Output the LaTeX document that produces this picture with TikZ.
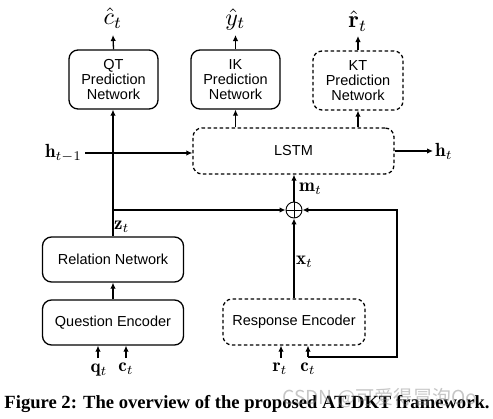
\documentclass[tikz,border=0pt]{standalone}
\usepackage{fontspec}
\usepackage{graphicx}
\setsansfont{Liberation Sans}
\newfontfamily\cjkfont{Noto Sans CJK SC}
\newfontfamily\capfont{Liberation Serif}
\usetikzlibrary{arrows.meta}
\newcommand{\mlabx}[1]{\scalebox{1.9}{$#1$}}
\newcommand{\hlabx}[1]{\scalebox{2.4}{$#1$}}
\begin{document}
\begin{tikzpicture}[x=1pt,y=-1pt,
  box/.style={draw, rounded corners=9pt, line width=1.3pt, font=\sffamily\fontsize{14.5}{15}\selectfont, align=center, inner sep=0pt},
  dbox/.style={box, dash pattern=on 3.5pt off 2.5pt},
  arr/.style={-{Latex[length=6pt,width=5.5pt]}, line width=1.3pt},
  lab/.style={inner sep=0pt}]
\useasboundingbox (0,0) rectangle (493,418);
% boxes
\node[box, minimum width=89pt, minimum height=59pt] (qt) at (113.5,79.5) {QT\\Prediction\\Network};
\node[box, minimum width=89pt, minimum height=59pt] (ik) at (235.5,79.5) {IK\\Prediction\\Network};
\node[dbox, minimum width=90pt, minimum height=59pt] (kt) at (358,80.5) {KT\\Prediction\\Network};
\node[dbox, minimum width=201pt, minimum height=46pt] (lstm) at (293.5,151) {LSTM};
\node[box, minimum width=141pt, minimum height=45pt] (rel) at (113,259.5) {Relation Network};
\node[box, minimum width=141pt, minimum height=45pt] (qenc) at (113,322.5) {Question Encoder};
\node[dbox, minimum width=142pt, minimum height=46pt] (renc) at (294,322) {Response Encoder};
\node[circle, draw, line width=0.9pt, minimum size=16pt, inner sep=0pt,
  path picture={\draw[line width=0.9pt] (path picture bounding box.north) -- (path picture bounding box.south) (path picture bounding box.west) -- (path picture bounding box.east);}] (plus) at (294,210) {};
% output labels
\node[lab] (chat) at (113,18) {\hlabx{\hat{c}_t}};
\node[lab] (yhat) at (235.5,19) {\hlabx{\hat{y}_t}};
\node[lab] (rhat) at (358,21) {\hlabx{\hat{\mathbf{r}}_t}};
\coordinate (chatb) at (113,35);
\coordinate (yhatb) at (235.5,35);
\coordinate (rhatb) at (358,36);
\draw[arr] (qt.north) -- (chatb);
\draw[arr] (ik.north) -- (yhatb);
\draw[arr] (kt.north) -- (rhatb);
\draw[arr] (lstm.north -| ik) -- (ik.south);
\draw[arr] (lstm.north -| kt) -- (kt.south);
% h labels
\node[lab, anchor=east] (hprev) at (82,153) {\mlabx{\mathbf{h}_{t-1}}};
\draw[arr] (hprev.east) ++(3pt,0) -- (lstm.west |- hprev.east);
\node[lab, anchor=west] (hnext) at (435,151) {\mlabx{\mathbf{h}_t}};
\draw[arr] (lstm.east) -- ([xshift=-2pt]hnext.west);
% z line
\draw[arr] (rel.north) -- (rel.north |- qt.south);
\draw[arr] (rel.north |- plus) -- (plus.west);
\node[lab, anchor=west] (zt) at (114,227) {\mlabx{\mathbf{z}_t}};
% m
\draw[arr] (plus.north) -- (lstm.south -| plus);
\node[lab, anchor=west] (mt) at (299,189) {\mlabx{\mathbf{m}_t}};
% x
\draw[arr] (renc.north -| plus) -- (plus.south);
\node[lab, anchor=west] (xt) at (296,262) {\mlabx{\mathbf{x}_t}};
% q encoder
\draw[arr] (qenc.north) -- (rel.south);
\node[lab] (qt1) at (99,370) {\mlabx{\mathbf{q}_t}};
\node[lab] (ct1) at (126,369) {\mlabx{\mathbf{c}_t}};
\coordinate (qs) at (98,358);
\coordinate (cs) at (126,358);
\draw[arr] (qs) -- (qenc.south -| qs);
\draw[arr] (cs) -- (qenc.south -| cs);
% response
\node[lab] (rt) at (280,369) {\mlabx{\mathbf{r}_t}};
\node[lab] (ct2) at (308,369) {\mlabx{\mathbf{c}_t}};
\coordinate (rs) at (281,358);
\coordinate (cr) at (308,357);
\coordinate (cc1) at (397,357);
\coordinate (cc2) at (397,210);
\draw[arr] (rs) -- (renc.south -| rs);
\draw[arr] (cr) -- (renc.south -| cr);
\draw[arr] (cr) -- (cc1) -- (cc2) -- (plus.east);
% caption
\node[inner sep=0pt] (cap) at (247,404) {\resizebox{485pt}{!}{\capfont\bfseries Figure 2: The overview of the proposed AT-DKT framework.}};
\node[inner sep=0pt, text=gray, opacity=0.45] (wm) at (380,398) {\resizebox{195pt}{!}{\cjkfont CSDN @可爱得冒泡Oo}};
\end{tikzpicture}
\end{document}
